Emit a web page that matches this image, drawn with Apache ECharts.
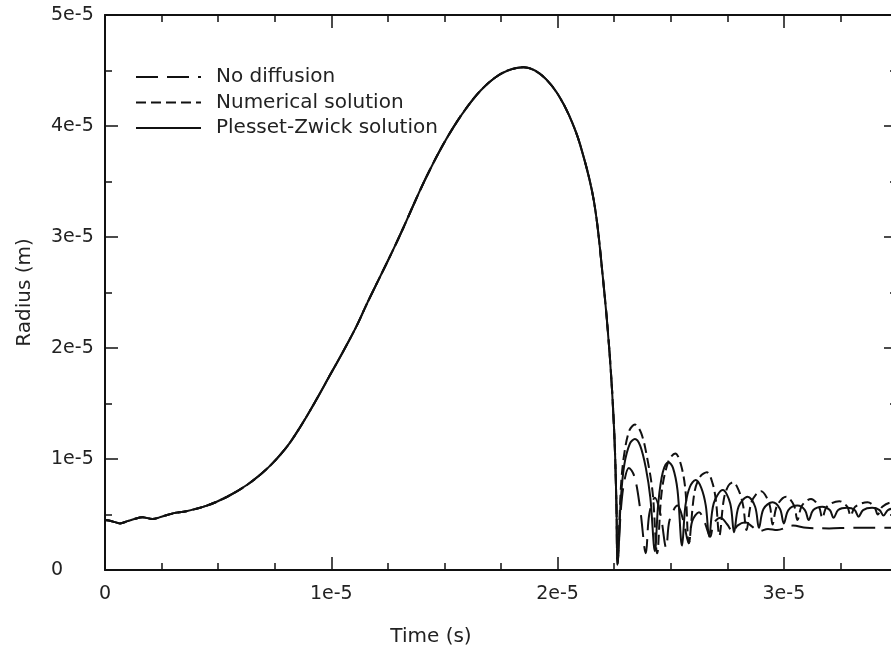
<!DOCTYPE html>
<html>
<head>
<meta charset="utf-8">
<script src="https://cdn.jsdelivr.net/npm/echarts@6.0.0/dist/echarts.min.js"></script>
<style>
html, body { margin: 0; padding: 0; background: #fff; }
#chart { width: 891px; height: 657px; }
</style>
</head>
<body>
<div id="chart"></div>
<script>
// time in 1e-5 s, radius in 1e-5 m
// growth + collapse, the three solutions overlap here
const growth = [
  [0, 0.45], [0.03, 0.44], [0.066, 0.42], [0.1, 0.44], [0.13, 0.46], [0.165, 0.475],
  [0.21, 0.46], [0.25, 0.48], [0.3, 0.51], [0.36, 0.53], [0.45, 0.58], [0.54, 0.66],
  [0.63, 0.77], [0.72, 0.92], [0.8, 1.1], [0.86, 1.28], [0.93, 1.52], [0.99, 1.74],
  [1.05, 1.96], [1.11, 2.19], [1.16, 2.41], [1.215, 2.64], [1.27, 2.87], [1.32, 3.09],
  [1.37, 3.32], [1.42, 3.54], [1.48, 3.78], [1.54, 3.99], [1.6, 4.17], [1.66, 4.32],
  [1.72, 4.43], [1.78, 4.5], [1.85, 4.53], [1.9, 4.5], [1.95, 4.42], [2.0, 4.29],
  [2.05, 4.1], [2.1, 3.83], [2.16, 3.33], [2.2, 2.64], [2.23, 1.95], [2.25, 1.26],
  [2.26, 0.6], [2.265, 0.05]
]
// rebounds after collapse
const noDiffusionTail = [
  [2.28, 0.55], [2.295, 0.8], [2.315, 0.92], [2.34, 0.84], [2.365, 0.55], [2.39, 0.15],
  [2.405, 0.5], [2.43, 0.65], [2.455, 0.5], [2.48, 0.2], [2.495, 0.45], [2.53, 0.58],
  [2.555, 0.45], [2.58, 0.24], [2.595, 0.44], [2.625, 0.52], [2.65, 0.43], [2.675, 0.3],
  [2.69, 0.42], [2.72, 0.47], [2.75, 0.41], [2.775, 0.34], [2.795, 0.4], [2.83, 0.43],
  [2.86, 0.39], [2.89, 0.35], [2.93, 0.37], [2.97, 0.36], [3.04, 0.4], [3.1, 0.38],
  [3.2, 0.375], [3.3, 0.38], [3.4, 0.38], [3.5, 0.38]
]
const numericalTail = [
  [2.28, 0.75], [2.295, 1.05], [2.318, 1.26], [2.342, 1.31], [2.37, 1.23], [2.395, 1.02],
  [2.42, 0.7], [2.44, 0.15], [2.46, 0.7], [2.49, 0.98], [2.52, 1.05], [2.545, 0.95],
  [2.565, 0.72], [2.58, 0.24], [2.605, 0.7], [2.63, 0.84], [2.66, 0.88], [2.685, 0.78],
  [2.7, 0.62], [2.715, 0.31], [2.735, 0.64], [2.755, 0.76], [2.775, 0.79], [2.8, 0.72],
  [2.82, 0.58], [2.835, 0.36], [2.855, 0.6], [2.88, 0.69], [2.9, 0.71], [2.925, 0.65],
  [2.94, 0.56], [2.95, 0.41], [2.97, 0.58], [3.01, 0.66], [3.045, 0.58], [3.06, 0.45],
  [3.08, 0.58], [3.12, 0.64], [3.155, 0.57], [3.17, 0.47], [3.19, 0.57], [3.245, 0.62],
  [3.28, 0.57], [3.295, 0.49], [3.315, 0.57], [3.37, 0.61], [3.4, 0.57], [3.415, 0.5],
  [3.435, 0.57], [3.48, 0.61], [3.5, 0.6]
]
const plessetTail = [
  [2.28, 0.65], [2.295, 0.95], [2.32, 1.14], [2.342, 1.18], [2.365, 1.12], [2.39, 0.92],
  [2.41, 0.65], [2.43, 0.17], [2.445, 0.6], [2.465, 0.88], [2.49, 0.97], [2.51, 0.92],
  [2.53, 0.72], [2.55, 0.22], [2.565, 0.58], [2.585, 0.75], [2.61, 0.81], [2.635, 0.74],
  [2.655, 0.58], [2.67, 0.3], [2.69, 0.6], [2.73, 0.72], [2.763, 0.6], [2.78, 0.34],
  [2.8, 0.57], [2.84, 0.66], [2.873, 0.57], [2.89, 0.38], [2.91, 0.55], [2.95, 0.61],
  [2.983, 0.55], [3.0, 0.42], [3.02, 0.54], [3.06, 0.58], [3.093, 0.54], [3.11, 0.45],
  [3.13, 0.54], [3.17, 0.57], [3.203, 0.54], [3.22, 0.47], [3.24, 0.54], [3.28, 0.56],
  [3.313, 0.54], [3.33, 0.48], [3.35, 0.54], [3.39, 0.56], [3.423, 0.54], [3.44, 0.49],
  [3.46, 0.54], [3.5, 0.56]
]
const seriesNames = ['No diffusion', 'Numerical solution', 'Plesset-Zwick solution']

const font = 'DejaVu Sans'
const ink = '#111'

const sciLabel = function (v) {
  if (v === 0) return '0'
  if (Math.abs(v - Math.round(v)) > 1e-9) return ''
  return v + 'e-5'
}

// one x axis per side for major ticks, one more for the minor (0.25) ticks
function xAx (position, major, labels) {
  return {
    type: 'value',
    position: position,
    min: 0,
    max: 3.5,
    interval: major ? 1 : 0.25,
    axisLine: { show: major, onZero: false, lineStyle: { color: ink, width: 2 } },
    axisTick: { show: true, inside: true, length: major ? 13 : 7, lineStyle: { color: ink, width: 1.5 } },
    axisLabel: {
      show: labels,
      margin: 15,
      color: '#222',
      fontFamily: font,
      fontSize: 19,
      formatter: sciLabel
    },
    splitLine: { show: false }
  }
}

function yAx (position, labels) {
  return {
    type: 'value',
    position: position,
    min: 0,
    max: 5,
    interval: 1,
    axisLine: { show: true, onZero: false, lineStyle: { color: ink, width: 2 } },
    axisTick: { show: true, inside: true, length: 13, lineStyle: { color: ink, width: 1.5 } },
    minorTick: { show: true, splitNumber: 2, length: 7, lineStyle: { color: ink, width: 1.5 } },
    axisLabel: {
      show: labels,
      align: 'left',
      margin: 54,
      color: '#222',
      fontFamily: font,
      fontSize: 19,
      formatter: sciLabel
    },
    splitLine: { show: false },
    minorSplitLine: { show: false }
  }
}

const xAxes = [xAx('bottom', true, true), xAx('bottom', false, false), xAx('top', true, false), xAx('top', false, false)]
xAxes[0].name = 'Time (s)'
xAxes[0].nameLocation = 'middle'
xAxes[0].nameGap = 57
xAxes[0].nameTextStyle = { fontFamily: font, fontSize: 20, color: '#222', padding: [0, 140, 0, 0] }

const yAxes = [yAx('left', true), yAx('right', false)]
yAxes[0].name = 'Radius (m)'
yAxes[0].nameLocation = 'middle'
yAxes[0].nameGap = 70
yAxes[0].nameTextStyle = { fontFamily: font, fontSize: 20, color: '#222' }

const lineBase = {
  type: 'line',
  xAxisIndex: 0,
  yAxisIndex: 0,
  symbol: 'none',
  smooth: 0.35,
  animation: false
}

const chart = echarts.init(document.getElementById('chart'))
chart.setOption({
  animation: false,
  backgroundColor: '#fff',
  grid: { left: 105, right: -6, top: 15, bottom: 87, outerBoundsMode: 'none', containLabel: false },
  legend: {
    orient: 'vertical',
    left: 135,
    top: 67,
    padding: 0,
    itemWidth: 65,
    itemHeight: 14,
    itemGap: 5.5,
    selectedMode: false,
    itemStyle: { opacity: 0 },
    textStyle: { fontFamily: font, fontSize: 20, lineHeight: 20, color: '#222', padding: [0, 0, 0, 10] },
    data: seriesNames
  },
  xAxis: xAxes,
  yAxis: yAxes,
  series: [
    {
      ...lineBase,
      name: seriesNames[0],
      data: growth.concat(noDiffusionTail),
      lineStyle: { color: ink, width: 2, type: [22, 9] },
      itemStyle: { color: ink }
    },
    {
      ...lineBase,
      name: seriesNames[1],
      data: growth.concat(numericalTail),
      lineStyle: { color: ink, width: 2, type: [10, 5] },
      itemStyle: { color: ink }
    },
    {
      ...lineBase,
      name: seriesNames[2],
      data: growth.concat(plessetTail),
      lineStyle: { color: ink, width: 2, type: 'solid' },
      itemStyle: { color: ink }
    }
  ]
})
</script>
</body>
</html>
